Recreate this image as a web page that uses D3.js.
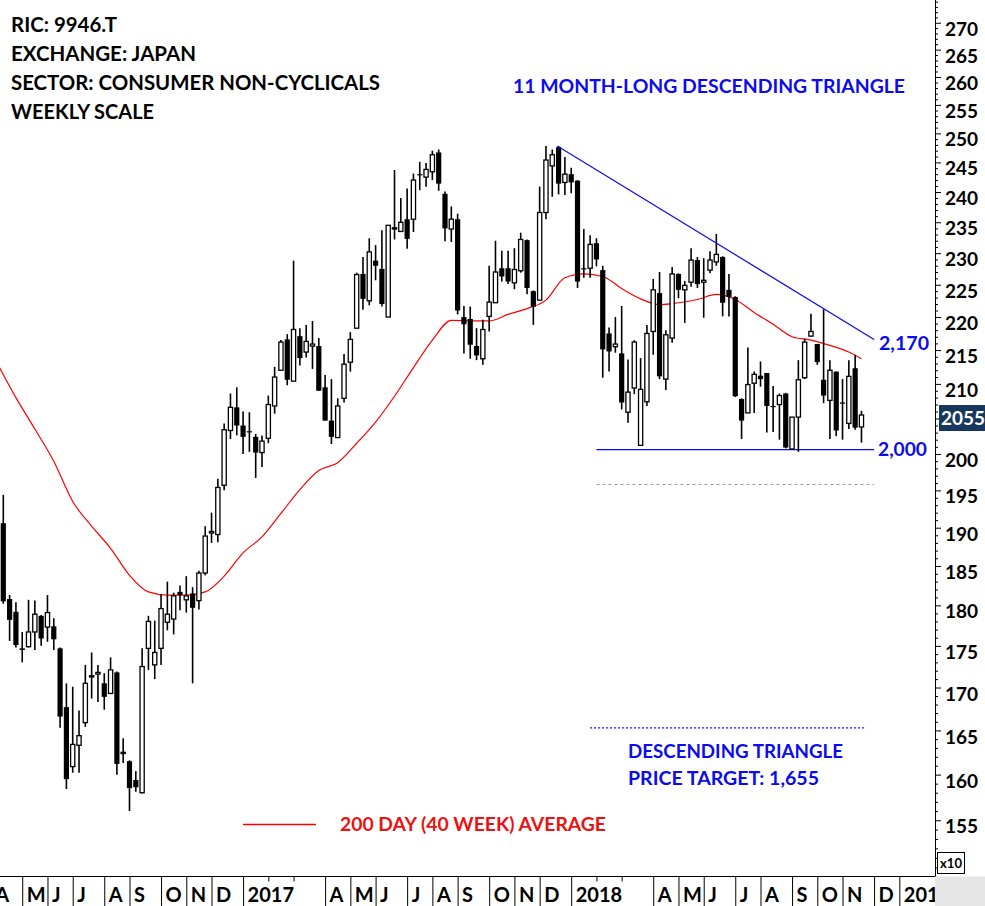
<!DOCTYPE html>
<html><head><meta charset="utf-8">
<script src="https://cdn.jsdelivr.net/npm/d3@7"></script>
<style>
body{margin:0;background:#fff;}
svg{display:block;font-family:Lato,'Open Sans',sans-serif;font-weight:700;}
</style></head><body>
<svg id="c" width="985" height="906"></svg>
<script>
// Weekly bars (Friday-dated), first bar 2016-04-15, last bar 2018-11-23. Prices in JPY.
const open  = [1906,1808,1792,1747,1749,1767,1787,1773,1774,1747,1677,1609,1633,1659,1713,1716,1705,1693,1718,1625,
1615,1594,1580,1747,1727,1747,1779,1783,1817,1807,1815,1806,1841,1893,1891,1957,2033,2066,2040,2032,
2024,2002,2022,2068,2120,2166,2104,2171,2147,2156,2156,2095,2047,2023,2079,2132,2183,2267,2225,2288,
2275,2200,2340,2335,2355,2355,2430,2425,2434,2467,2397,2339,2355,2200,2197,2156,2137,2201,2222,2276,
2276,2253,2272,2321,2240,2226,2366,2444,2476,2416,2430,2419,2276,2276,2316,2273,2175,2155,2145,2059,
2094,2012,2074,2178,2237,2107,2168,2267,2242,2254,2289,2254,2273,2286,2294,2242,2231,2078,2058,2101,
2112,2116,2068,2070,2086,2007,2052,2109,2171,2159,2106,2076,2118,2073,2043,2123,2038];
const high  = [1944,1813,1804,1767,1807,1806,1788,1813,1784,1748,1705,1701,1673,1727,1742,1727,1717,1736,1719,1641,
1616,1604,1747,1787,1781,1814,1830,1816,1825,1837,1823,1844,1902,1920,1966,2043,2086,2095,2060,2059,
2028,2026,2083,2125,2165,2174,2288,2183,2188,2194,2168,2113,2107,2079,2144,2177,2269,2294,2324,2313,
2337,2345,2437,2390,2406,2431,2451,2449,2470,2472,2401,2376,2364,2217,2216,2183,2196,2280,2320,2304,
2304,2308,2333,2322,2241,2409,2478,2472,2478,2459,2441,2420,2339,2329,2324,2280,2184,2200,2217,2136,
2165,2138,2188,2259,2270,2180,2278,2268,2256,2308,2294,2292,2303,2331,2295,2267,2232,2079,2154,2118,
2133,2116,2097,2086,2087,2052,2135,2167,2205,2159,2212,2135,2118,2107,2135,2143,2061];
const low   = [1802,1756,1748,1730,1748,1745,1750,1755,1745,1653,1584,1602,1602,1654,1687,1683,1674,1693,1600,1613,
1560,1581,1579,1721,1710,1727,1769,1764,1794,1791,1705,1795,1838,1880,1881,1950,2021,2026,2000,2003,
1967,1982,2015,2057,2120,2098,2104,2127,2139,2122,2090,2047,2014,2023,2073,2118,2183,2211,2218,2257,
2216,2200,2322,2335,2307,2334,2403,2409,2420,2402,2319,2318,2204,2145,2137,2135,2128,2178,2222,2255,
2251,2243,2269,2235,2188,2226,2355,2392,2396,2395,2398,2245,2261,2261,2279,2109,2118,2146,2063,2044,
2085,2012,2068,2143,2107,2091,2161,2229,2191,2247,2245,2199,2268,2280,2201,2201,2081,2021,2058,2058,
2096,2030,2031,2020,2008,2007,2003,2107,2170,2128,2072,2021,2025,2020,2035,2034,2016];
const close = [1805,1782,1751,1745,1767,1789,1759,1791,1758,1666,1595,1634,1644,1705,1714,1718,1689,1721,1612,1625,
1585,1586,1725,1780,1742,1796,1789,1812,1813,1812,1797,1841,1889,1895,1954,2034,2066,2040,2024,2031,
2002,2018,2070,2110,2162,2106,2181,2138,2163,2159,2090,2047,2024,2068,2129,2166,2266,2228,2302,2280,
2220,2345,2341,2350,2323,2420,2428,2438,2463,2414,2340,2355,2210,2189,2158,2142,2181,2223,2270,2263,
2255,2274,2322,2245,2216,2366,2454,2463,2414,2430,2416,2255,2275,2314,2290,2151,2148,2159,2073,2088,
2162,2092,2175,2242,2111,2173,2267,2242,2249,2289,2251,2257,2289,2298,2222,2231,2082,2047,2099,2114,
2107,2068,2067,2083,2009,2052,2106,2162,2178,2132,2083,2120,2033,2072,2111,2037,2055];

// 40-week average, read at bar positions
const maIdx = [-1,2,5,8,11,14,17,20,23,26,29,32,35,38,41,44,47,50,53,56,59,62,65,68,71,74,77,80,83,86,89,92,95,98,101,104,107,110,113,116,119,122,125,128,131,134,136];
const maVal = [2131,2080,2035,1990,1935,1902,1873,1838,1817,1813,1813,1817,1837,1867,1888,1919,1951,1977,1988,2015,2045,2082,2124,2165,2195,2194,2194,2204,2213,2226,2261,2267,2263,2244,2228,2219,2222,2227,2235,2227,2207,2189,2170,2165,2157,2147,2137];

// Month starts (bar index of first Friday) and labels
const monthIdx   = [-2,3,7,11,16,20,25,29,33,38,42,46,51,55,59,64,68,72,77,81,85,90,94,98,103,107,111,116,120,125,129,133,138,142];
const monthLabel = ["A","M","J","J","A","S","O","N","D","2017","","","A","M","J","J","A","S","O","N","D","2018","","","A","M","J","J","A","S","O","N","D","2019"];

// Pattern annotations
const resIdx = [87.8, 138], resVal = [2478, 2166];
const supIdx = [94, 138],   supVal = [2006, 2006];
const lowDotIdx = [94, 138], lowDotVal = [1958, 1958];
const tgtIdx = [93, 136.7], tgtVal = [1653, 1653];
const lastPrice = 2055;

const W = 985, H = 906, plotR = 935, axisY = 876.5;
const svg = d3.select('#c');
const x = d3.scaleLinear().domain([0, 136]).range([3.3, 861.46]);
const y = d3.scaleLog().domain([1490.3, 2743.1]).range([876.7, 0]);
const BLUE = '#0b0bf0', RED = '#ee1111';

const defs = svg.append('defs');
defs.append('clipPath').attr('id','clip').append('rect').attr('x',0).attr('y',0).attr('width',plotR).attr('height',axisY);
defs.append('clipPath').attr('id','clipx').append('rect').attr('x',0).attr('y',axisY).attr('width',plotR).attr('height',H-axisY);

// bottom-right grey corner
svg.append('rect').attr('x',plotR).attr('y',axisY).attr('width',W-plotR).attr('height',H-axisY).attr('fill','#e6e6e6');

const plot = svg.append('g').attr('clip-path','url(#clip)');

// annotations lines
const seg = (idx, val, color, dash, w) => plot.append('line')
  .attr('x1', x(idx[0])).attr('x2', x(idx[1])).attr('y1', y(val[0])).attr('y2', y(val[1]))
  .attr('stroke', color).attr('stroke-width', w).attr('stroke-dasharray', dash);
seg(supIdx, supVal, BLUE, null, 1.3);
seg(lowDotIdx, lowDotVal, '#9a9a9a', '3,3', 1);
seg(tgtIdx, tgtVal, BLUE, '2,2', 1.2);

// moving average
plot.append('path').datum(d3.range(maIdx.length))
  .attr('d', d3.line().x(i => x(maIdx[i])).y(i => y(maVal[i])).curve(d3.curveMonotoneX))
  .attr('fill','none').attr('stroke','#ff0000').attr('stroke-width',1.2);

// candles
const cg = plot.selectAll('g.c').data(d3.range(open.length)).join('g').attr('class','c');
cg.append('line')
  .attr('x1', i => x(i)).attr('x2', i => x(i))
  .attr('y1', i => y(high[i])).attr('y2', i => y(low[i]))
  .attr('stroke','#000').attr('stroke-width',1.6);
cg.append('rect')
  .attr('x', i => x(i) - (close[i] >= open[i] ? 2.1 : 2.6))
  .attr('width', i => close[i] >= open[i] ? 4.2 : 5.2)
  .attr('y', i => y(Math.max(open[i], close[i])))
  .attr('height', i => Math.max(1.2, y(Math.min(open[i], close[i])) - y(Math.max(open[i], close[i]))))
  .attr('fill', i => close[i] >= open[i] ? '#fff' : '#000')
  .attr('stroke', '#000').attr('stroke-width', i => close[i] >= open[i] ? 1.3 : 0);

// resistance line
seg(resIdx, resVal, BLUE, null, 1.2);

// y axis (the 205 label is hidden behind the last-price box in the reference)
const yMinor = d3.range(1500, 2750, 10).filter(v => v % 50 !== 0);
const yMajor = d3.range(1500, 2750, 50);
const ya1 = svg.append('g').attr('transform', `translate(${plotR},0)`)
  .call(d3.axisRight(y).tickValues(yMinor).tickSize(3).tickFormat(''));
const ya2 = svg.append('g').attr('transform', `translate(${plotR},0)`)
  .call(d3.axisRight(y).tickValues(yMajor).tickSize(6)
    .tickFormat(d => d >= 1550 && d <= 2700 && d !== 2050 ? d / 10 : ''));
[ya1, ya2].forEach(g => { g.select('.domain').remove(); g.selectAll('line').attr('stroke','#000'); });
ya2.selectAll('text').attr('x', 10).attr('dy', '0.32em').attr('transform','translate(0,6.5)')
  .style('font-family','Lato, sans-serif').style('font-weight',700).style('font-size','19px').attr('fill','#000');
svg.append('line').attr('x1',plotR+0.5).attr('x2',plotR+0.5).attr('y1',0).attr('y2',axisY).attr('stroke','#000');

// last price box
const lp = y(lastPrice) + 3;
svg.append('rect').attr('x', 939).attr('y', lp - 13).attr('width', 46).attr('height', 26).attr('fill','#17375e');
svg.append('text').attr('x', 941).attr('y', lp).attr('dy','0.35em').attr('fill','#fff')
  .style('font-size','19px').text(lastPrice);

// x10 box
svg.append('rect').attr('x',937.5).attr('y',852.5).attr('width',27).attr('height',21).attr('fill','#fff').attr('stroke','#000');
svg.append('text').attr('x',951).attr('y',863).attr('dy','0.35em').attr('text-anchor','middle').style('font-size','13px').text('x10');

// x axis
svg.append('line').attr('x1',0).attr('x2',plotR).attr('y1',axisY).attr('y2',axisY).attr('stroke','#000');
const xg = svg.append('g').attr('clip-path','url(#clipx)');
const labeled = monthIdx.filter((d,i) => monthLabel[i] !== '');
const unlabeled = monthIdx.filter((d,i) => monthLabel[i] === '');
const xa1 = xg.append('g').attr('transform',`translate(0,${axisY})`)
  .call(d3.axisBottom(x).tickValues(labeled).tickSize(30).tickSizeOuter(0)
    .tickFormat(d => monthLabel[monthIdx.indexOf(d)]));
const xa2 = xg.append('g').attr('transform',`translate(0,${axisY})`)
  .call(d3.axisBottom(x).tickValues(unlabeled).tickSize(5).tickSizeOuter(0).tickFormat(''));
[xa1, xa2].forEach(g => { g.select('.domain').remove(); g.selectAll('line').attr('stroke','#000'); });
xa1.selectAll('text').attr('text-anchor','start').attr('x',4).attr('y',25.5).attr('dy',0)
  .style('font-family','Lato, sans-serif').style('font-weight',700).style('font-size','20px').attr('fill','#000');

// titles
const T = (t, xx, yy, size, color, len) => {
  const s = svg.append('text').attr('x', xx).attr('y', yy).attr('fill', color).style('font-size', size + 'px').text(t);
  if (len) s.attr('textLength', len).attr('lengthAdjust','spacingAndGlyphs');
  return s;
};
T('RIC: 9946.T', 11, 31.5, 20, '#000', 106);
T('EXCHANGE: JAPAN', 11, 60.5, 20, '#000', 185);
T('SECTOR: CONSUMER NON-CYCLICALS', 11, 89.5, 20, '#000', 369);
T('WEEKLY SCALE', 11, 118.5, 20, '#000', 143);
T('11 MONTH-LONG DESCENDING TRIANGLE', 513, 93, 18.5, BLUE, 392);
T('2,170', 879, 350, 18.5, BLUE, 50);
T('2,000', 878, 456, 18.5, BLUE, 49);
T('DESCENDING TRIANGLE', 628, 758, 18.5, BLUE, 215);
T('PRICE TARGET: 1,655', 628, 785, 18.5, BLUE, 191);
svg.append('line').attr('x1',243).attr('x2',316).attr('y1',824.5).attr('y2',824.5).attr('stroke','#ff0000').attr('stroke-width',1.5);
T('200 DAY (40 WEEK) AVERAGE', 340, 831, 18.5, RED, 266);
</script>
</body></html>
